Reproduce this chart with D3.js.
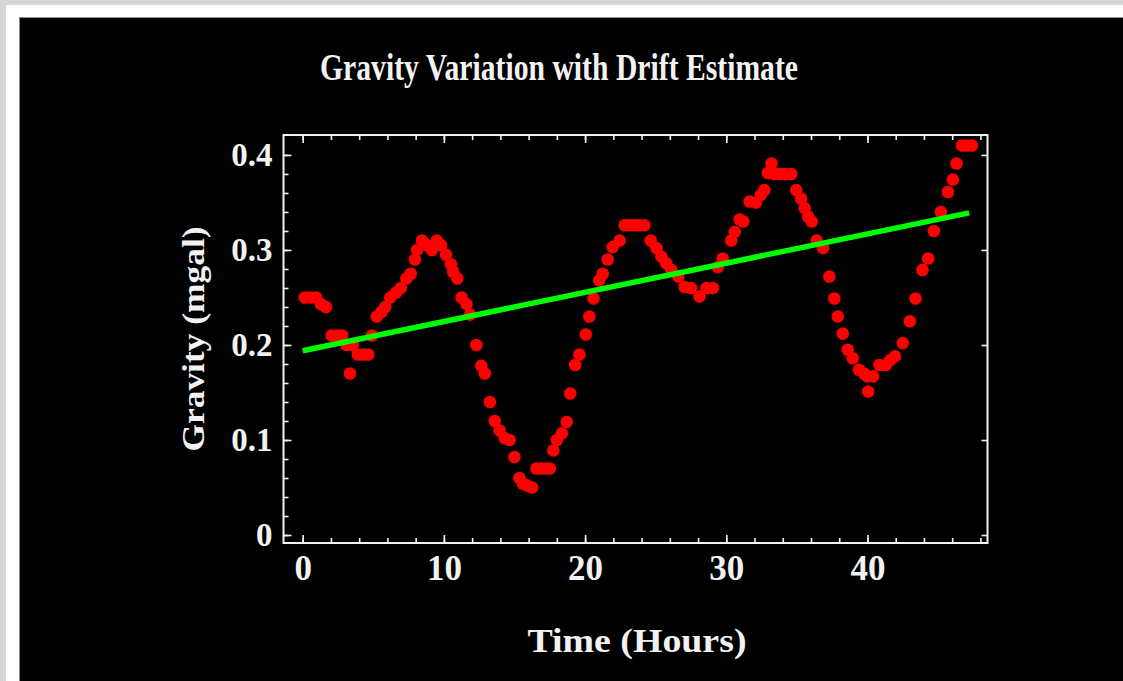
<!DOCTYPE html>
<html>
<head>
<meta charset="utf-8">
<script src="https://cdnjs.cloudflare.com/ajax/libs/d3/7.8.5/d3.min.js"></script>
<style>
  body { margin: 0; background: #d6d6d6; }
  svg { display: block; }
</style>
</head>
<body>
<div id="chart"></div>
<script>
// measured gravity readings (hours, mgal)
var hours = [
  0.15, 0.55, 0.95, 1.3, 1.65, 2.05, 2.45, 2.8, 3.1, 3.35, 3.55, 3.9, 4.3, 4.65, 4.9,
  5.25, 5.6, 5.85, 6.2, 6.6, 6.95, 7.35, 7.65, 7.95, 8.1, 8.45, 8.8, 9.15, 9.5, 9.8,
  10.15, 10.5, 10.65, 10.95, 11.25, 11.6, 11.85, 12.3, 12.65, 12.9, 13.26, 13.6, 13.95,
  14.3, 14.65, 15.0, 15.35, 15.6, 15.9, 16.25, 16.55, 16.9, 17.2, 17.5, 17.75, 18.0,
  18.35, 18.7, 18.95, 19.3, 19.6, 20.05, 20.3, 20.6, 21.0, 21.25, 21.6, 21.95, 22.45,
  22.8, 23.15, 23.5, 23.85, 24.2, 24.65, 25.05, 25.4, 25.75, 26.1, 26.6, 27.05, 27.5,
  28.1, 28.6, 29.05, 29.4, 29.75, 30.35, 30.6, 30.95, 31.2, 31.65, 32.1, 32.45, 32.7,
  32.95, 33.2, 33.4, 33.8, 34.2, 34.6, 34.95, 35.3, 35.55, 35.8, 36.05, 36.4, 36.85,
  37.3, 37.65, 37.9, 38.25, 38.6, 38.95, 39.4, 39.75, 40.0, 40.05, 40.4, 40.85, 41.3,
  41.6, 41.95, 42.5, 43.0, 43.4, 43.9, 44.3, 44.7, 45.2, 45.7, 46.05, 46.3, 46.7,
  47.05, 47.4
];
var gravity = [
  0.25, 0.25, 0.25, 0.243, 0.24, 0.21, 0.21, 0.21, 0.20, 0.17, 0.20, 0.19, 0.19, 0.19, 0.21,
  0.23, 0.235, 0.24, 0.25, 0.255, 0.26, 0.27, 0.275, 0.29, 0.30, 0.31, 0.305, 0.30, 0.31, 0.305,
  0.295, 0.285, 0.277, 0.27, 0.25, 0.243, 0.232, 0.20, 0.178, 0.17, 0.14, 0.12, 0.11,
  0.102, 0.10, 0.082, 0.06, 0.054, 0.052, 0.05, 0.07, 0.07, 0.07, 0.07, 0.089, 0.10,
  0.107, 0.119, 0.149, 0.179, 0.19, 0.211, 0.23, 0.249, 0.268, 0.275, 0.29, 0.303, 0.31,
  0.326, 0.326, 0.326, 0.326, 0.326, 0.31, 0.302, 0.293, 0.286, 0.279, 0.272, 0.261, 0.26,
  0.251, 0.26, 0.26, 0.282, 0.291, 0.31, 0.319, 0.332, 0.33, 0.351, 0.35, 0.358, 0.363,
  0.381, 0.391, 0.38, 0.38, 0.38, 0.38, 0.363, 0.354, 0.344, 0.335, 0.33, 0.31, 0.302,
  0.272, 0.249, 0.23, 0.212, 0.195, 0.186, 0.174, 0.17, 0.167, 0.151, 0.167, 0.179, 0.179,
  0.184, 0.188, 0.202, 0.225, 0.249, 0.279, 0.291, 0.32, 0.34, 0.361, 0.374, 0.391, 0.41,
  0.41, 0.41
];

// fitted drift line end points
var driftHours = [0, 47.2];
var driftGravity = [0.194, 0.339];

var xTicks = [0, 10, 20, 30, 40];
var xMinorTicks = d3.range(0, 49, 2);
var yTicks = [0, 0.1, 0.2, 0.3, 0.4];
var yMinorTicks = d3.range(0, 41, 2).map(function(d) { return d / 100; });

var titleText = "Gravity Variation with Drift Estimate";
var xLabel = "Time (Hours)";
var yLabel = "Gravity (mgal)";

var cfg = {
  w: 1123,
  h: 681,
  frame: {left: 283.5, right: 987.5, top: 135, bottom: 543},
  dot: "#ff0000",
  line: "#00ff00",
  ink: "#f2f2f2",
  font: "'Liberation Serif', 'Times New Roman', serif"
};

var svg = d3.select("#chart")
  .append("svg")
  .attr("width", cfg.w)
  .attr("height", cfg.h);

// page border + black panel
svg.append("rect")
  .attr("x", 6).attr("y", 5)
  .attr("width", cfg.w - 6).attr("height", cfg.h - 5)
  .attr("fill", "#ffffff");

svg.append("rect")
  .attr("x", 19.5).attr("y", 17.5)
  .attr("width", cfg.w - 19).attr("height", cfg.h - 17)
  .attr("fill", "#000000")
  .attr("stroke", "#8a8a8a")
  .attr("stroke-width", 1);

var x = d3.scaleLinear()
  .domain([-1.36, 48.5])
  .range([cfg.frame.left, cfg.frame.right]);

var y = d3.scaleLinear()
  .domain([-0.0084, 0.421])
  .range([cfg.frame.bottom, cfg.frame.top]);

// title
svg.append("text")
  .attr("x", 559)
  .attr("y", 80)
  .attr("text-anchor", "middle")
  .attr("fill", cfg.ink)
  .attr("font-family", cfg.font)
  .attr("font-weight", "bold")
  .attr("font-size", "37px")
  .attr("textLength", 478)
  .attr("lengthAdjust", "spacingAndGlyphs")
  .text(titleText);

// data points
svg.append("g")
  .selectAll("circle")
  .data(hours)
  .enter()
  .append("circle")
  .attr("cx", function(d) { return x(d); })
  .attr("cy", function(d, i) { return y(gravity[i]); })
  .attr("r", 6.3)
  .attr("fill", cfg.dot);

// drift estimate
svg.append("path")
  .datum(driftHours)
  .attr("fill", "none")
  .attr("stroke", cfg.line)
  .attr("stroke-width", 5.5)
  .attr("d", d3.line()
    .x(function(d) { return x(d); })
    .y(function(d, i) { return y(driftGravity[i]); }));

function styleAxis(g) {
  g.select(".domain").remove();
  g.selectAll(".tick line")
    .attr("stroke", cfg.ink)
    .attr("stroke-width", 1.6);
  g.selectAll(".tick text")
    .attr("fill", cfg.ink)
    .attr("font-family", cfg.font)
    .attr("font-weight", "bold")
    .attr("font-size", "33px");
}

// bottom ticks (inward)
svg.append("g")
  .attr("transform", "translate(0," + cfg.frame.bottom + ")")
  .call(d3.axisBottom(x).tickValues(xMinorTicks).tickSize(-5).tickFormat(""))
  .call(styleAxis);
svg.append("g")
  .attr("transform", "translate(0," + cfg.frame.bottom + ")")
  .call(d3.axisBottom(x).tickValues(xTicks).tickSize(-8).tickPadding(12).tickFormat(d3.format("d")))
  .call(styleAxis)
  .selectAll(".tick text")
  .attr("font-size", "35px")
  .attr("dy", "0.71em");

// top ticks
svg.append("g")
  .attr("transform", "translate(0," + cfg.frame.top + ")")
  .call(d3.axisTop(x).tickValues(xMinorTicks).tickSize(-5).tickFormat(""))
  .call(styleAxis);
svg.append("g")
  .attr("transform", "translate(0," + cfg.frame.top + ")")
  .call(d3.axisTop(x).tickValues(xTicks).tickSize(-8).tickFormat(""))
  .call(styleAxis);

// left ticks
svg.append("g")
  .attr("transform", "translate(" + cfg.frame.left + ",0)")
  .call(d3.axisLeft(y).tickValues(yMinorTicks).tickSize(-5).tickFormat(""))
  .call(styleAxis);
svg.append("g")
  .attr("transform", "translate(" + cfg.frame.left + ",0)")
  .call(d3.axisLeft(y).tickValues(yTicks).tickSize(-8).tickPadding(11)
    .tickFormat(function(d) { return d === 0 ? "0" : d3.format(".1f")(d); }))
  .call(styleAxis);

// right ticks
svg.append("g")
  .attr("transform", "translate(" + cfg.frame.right + ",0)")
  .call(d3.axisRight(y).tickValues(yTicks).tickSize(-6).tickFormat(""))
  .call(styleAxis);

// frame
svg.append("rect")
  .attr("x", cfg.frame.left)
  .attr("y", cfg.frame.top)
  .attr("width", cfg.frame.right - cfg.frame.left)
  .attr("height", cfg.frame.bottom - cfg.frame.top)
  .attr("fill", "none")
  .attr("stroke", cfg.ink)
  .attr("stroke-width", 2);

// axis labels
svg.append("text")
  .attr("x", 637)
  .attr("y", 652)
  .attr("text-anchor", "middle")
  .attr("fill", cfg.ink)
  .attr("font-family", cfg.font)
  .attr("font-weight", "bold")
  .attr("font-size", "34px")
  .attr("textLength", 219)
  .attr("lengthAdjust", "spacingAndGlyphs")
  .text(xLabel);

svg.append("text")
  .attr("transform", "translate(204,339) rotate(-90)")
  .attr("text-anchor", "middle")
  .attr("fill", cfg.ink)
  .attr("font-family", cfg.font)
  .attr("font-weight", "bold")
  .attr("font-size", "32px")
  .attr("textLength", 225)
  .attr("lengthAdjust", "spacingAndGlyphs")
  .text(yLabel);
</script>
</body>
</html>
